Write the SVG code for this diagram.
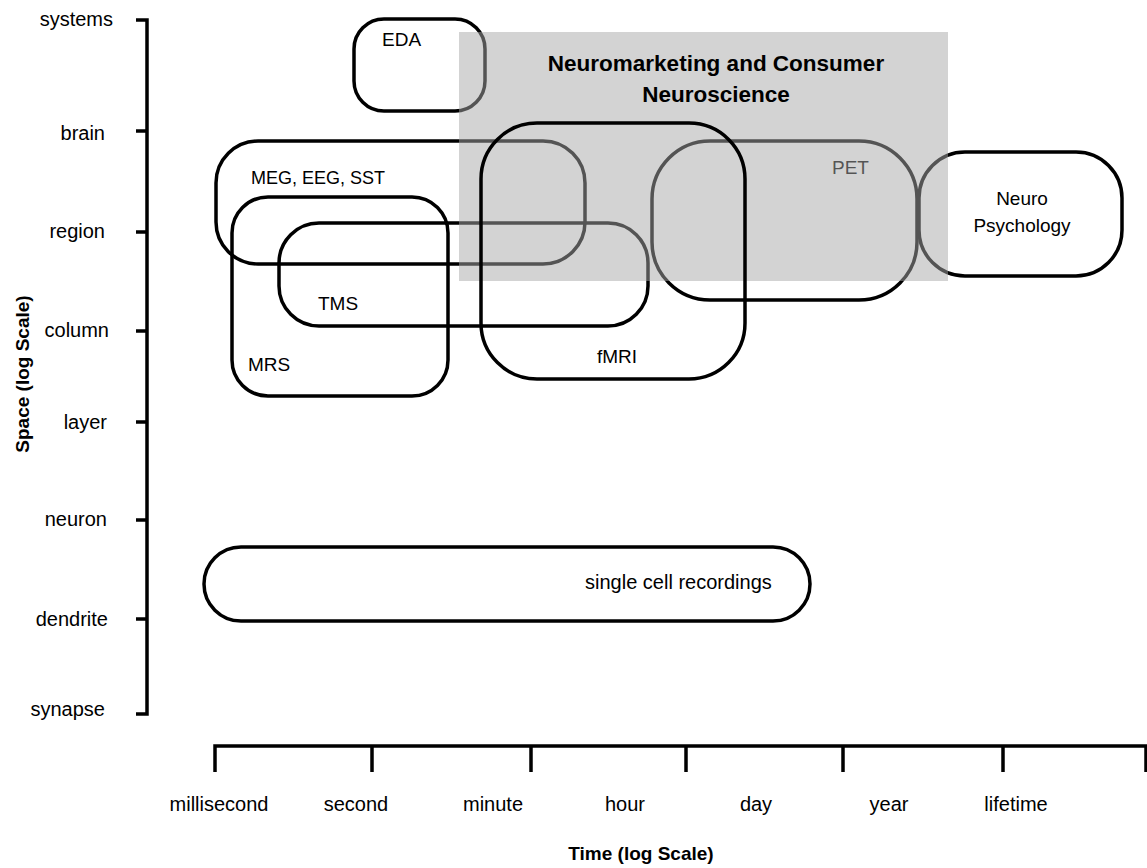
<svg xmlns="http://www.w3.org/2000/svg" width="1147" height="868" viewBox="0 0 1147 868">
<style>
text{font-family:"Liberation Sans",Arial,sans-serif;fill:#000}
.axr{font-size:20px;text-anchor:end}
.axc{font-size:20px;text-anchor:middle}
.lbl{font-size:19px}
.ttl{font-size:19px;font-weight:bold;text-anchor:middle}
.box{fill:none;stroke:#000;stroke-width:3.5}
.axis{fill:none;stroke:#000;stroke-width:3.5}
</style>
<rect width="1147" height="868" fill="#fff"/>
<g id="axes">
  <path class="axis" d="M136 20H147V714H136 M136 131H147 M136 232H147 M136 331H147 M136 422H147 M136 520H147 M136 619H147"/>
  <path class="axis" d="M215 772V746H1146V772 M372 746V772 M531 746V772 M686 746V772 M843 746V772 M1003 746V772"/>
  <text class="axr" x="113" y="26">systems</text>
  <text class="axr" x="105" y="140">brain</text>
  <text class="axr" x="105" y="238">region</text>
  <text class="axr" x="109" y="337">column</text>
  <text class="axr" x="107" y="429">layer</text>
  <text class="axr" x="107" y="526">neuron</text>
  <text class="axr" x="108" y="626">dendrite</text>
  <text class="axr" x="105" y="716">synapse</text>
  <text class="axc" x="219" y="811">millisecond</text>
  <text class="axc" x="356" y="811">second</text>
  <text class="axc" x="493" y="811">minute</text>
  <text class="axc" x="625" y="811">hour</text>
  <text class="axc" x="756" y="811">day</text>
  <text class="axc" x="889" y="811">year</text>
  <text class="axc" x="1016" y="811">lifetime</text>
  <text class="ttl" x="641" y="860">Time (log Scale)</text>
  <text class="ttl" transform="translate(29 374) rotate(-90)">Space (log Scale)</text>
</g>
<g id="node-eda"><rect class="box" x="354" y="19" width="131" height="92" rx="30"/></g>
<g id="node-meg"><rect class="box" x="216" y="141" width="369" height="123" rx="42"/></g>
<g id="node-mrs"><rect class="box" x="232" y="197" width="216" height="199" rx="36"/></g>
<g id="node-tms"><rect class="box" x="279" y="223" width="369" height="103" rx="40"/></g>
<g id="node-pet"><rect class="box" x="652" y="141" width="265" height="159" rx="58"/>
  <text class="lbl" x="832" y="174" fill="#222">PET</text></g>
<g id="node-neuropsych"><rect class="box" x="919" y="152" width="203" height="124" rx="46"/></g>
<g id="node-single"><rect class="box" x="204" y="547" width="606" height="74" rx="37"/></g>
<g id="overlay-neuromarketing">
  <rect x="459" y="32" width="489" height="249" fill="#a8a8a8" fill-opacity="0.5"/>
  <text x="716" y="71" style="font-size:22.5px;font-weight:bold;text-anchor:middle">Neuromarketing and Consumer</text>
  <text x="716" y="102" style="font-size:22.5px;font-weight:bold;text-anchor:middle">Neuroscience</text>
</g>
<g id="node-fmri"><rect class="box" x="481" y="123" width="264" height="256" rx="56"/></g>
<g id="labels">
  <text class="lbl" x="382" y="46">EDA</text>
  <text class="lbl" x="251" y="184" style="font-size:18px">MEG, EEG, SST</text>
  <text class="lbl" x="318" y="310">TMS</text>
  <text class="lbl" x="248" y="371">MRS</text>
  <text class="lbl" x="597" y="363">fMRI</text>
  <text class="lbl" x="1022" y="205" text-anchor="middle">Neuro</text>
  <text class="lbl" x="1022" y="232" text-anchor="middle">Psychology</text>
  <text class="lbl" x="585" y="589" style="font-size:20px">single cell recordings</text>
</g>
</svg>
